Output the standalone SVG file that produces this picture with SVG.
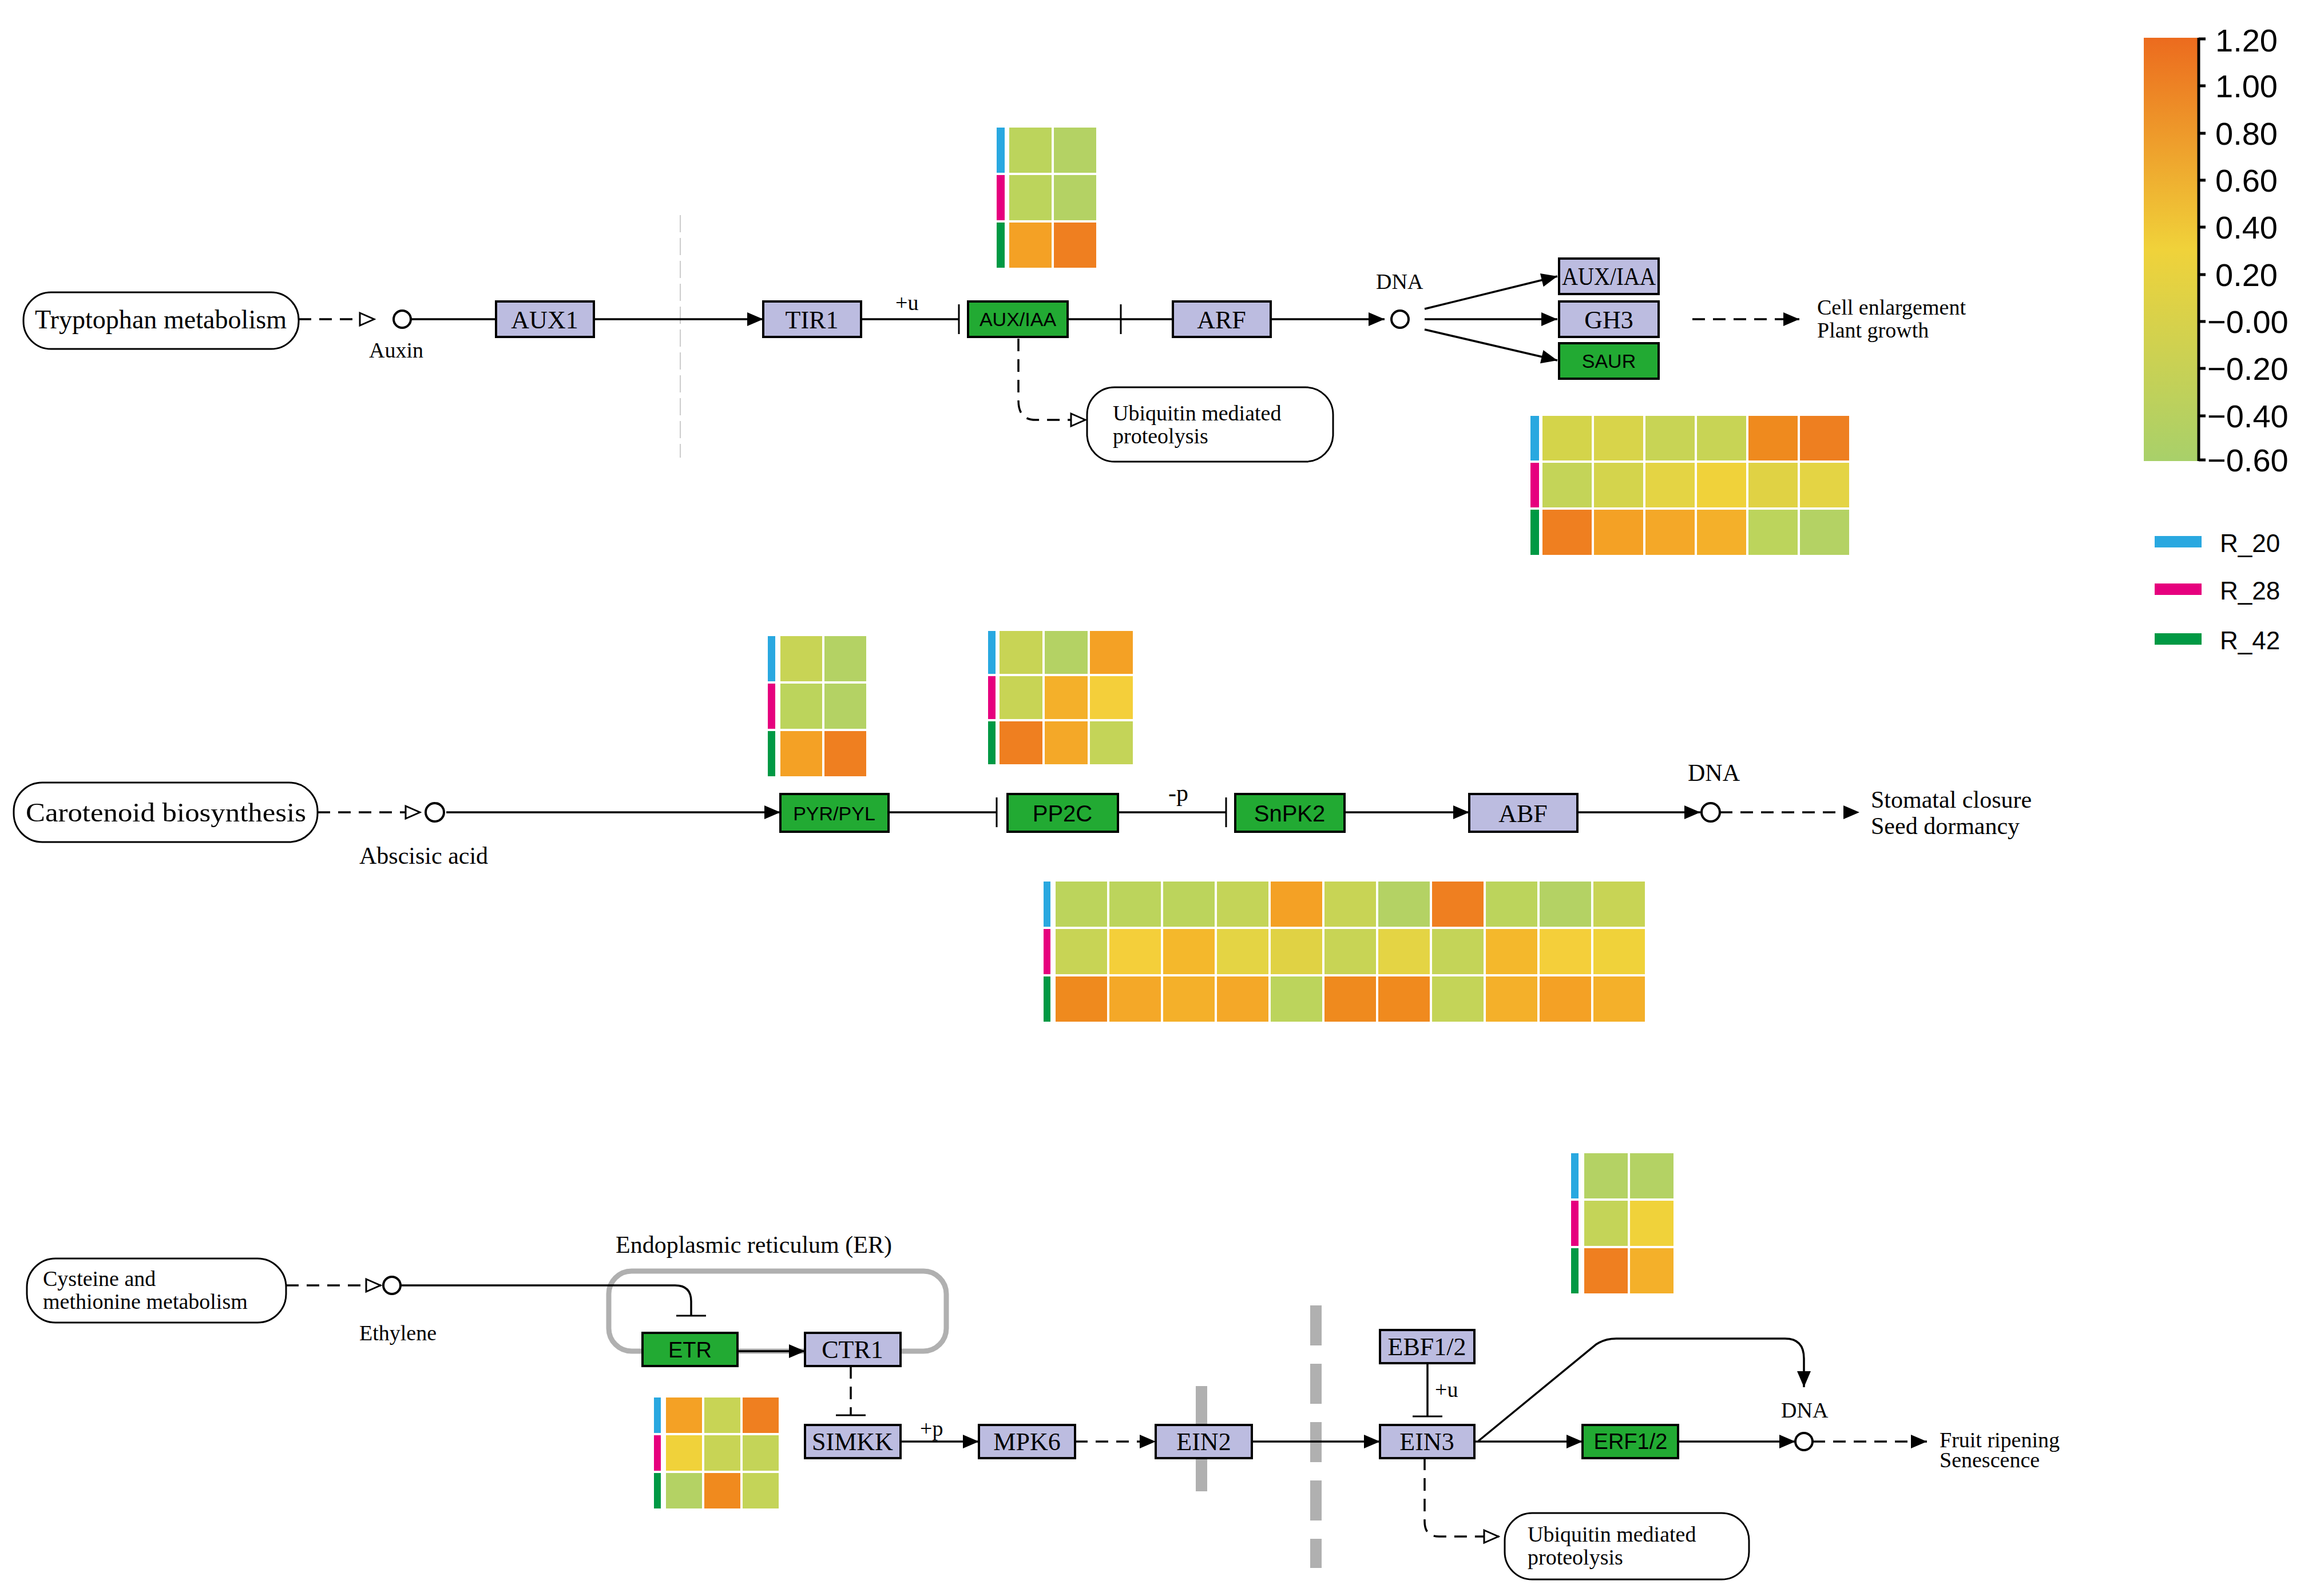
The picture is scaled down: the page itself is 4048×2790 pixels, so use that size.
<svg xmlns="http://www.w3.org/2000/svg" width="4048" height="2790" viewBox="0 0 4048 2790">
<defs>
<marker id="ah" markerWidth="32" markerHeight="32" refX="30" refY="16" orient="auto" markerUnits="userSpaceOnUse"><path d="M2,4L30,16L2,28z" fill="#000"/></marker>
<marker id="oa" markerWidth="32" markerHeight="32" refX="30" refY="16" orient="auto" markerUnits="userSpaceOnUse"><path d="M4,5L29,16L4,27z" fill="#fff" stroke="#000" stroke-width="3"/></marker>
<marker id="tb" markerWidth="8" markerHeight="60" refX="4" refY="30" orient="auto" markerUnits="userSpaceOnUse"><path d="M4,4V56" stroke="#000" stroke-width="3"/></marker>
<linearGradient id="cg" x1="0" y1="1" x2="0" y2="0"><stop offset="0" stop-color="#a8d06a"/><stop offset="0.5" stop-color="#f0d23a"/><stop offset="1" stop-color="#ec6b1e"/></linearGradient>
</defs>
<style>
text{font-family:"Liberation Serif",serif;fill:#000}
.lb{font-size:42px}
.sm{font-size:38px}
.gn rect{fill:#bcbce0;stroke:#000;stroke-width:4}
.gg rect{fill:#22aa33;stroke:#000;stroke-width:4}
.gn text,.gg text{text-anchor:middle}
.gg text{font-family:"Liberation Sans",sans-serif;font-size:34px}
.gn text{font-size:44px}
.map rect{fill:#fff;stroke:#000;stroke-width:3}
.ln{fill:none;stroke:#000;stroke-width:3.5}
.ds{fill:none;stroke:#000;stroke-width:3.5;stroke-dasharray:22,14}
.cp{fill:#fff;stroke:#000;stroke-width:4}
.hm rect{stroke:#fff;stroke-width:4}
.ax{font-family:"Liberation Sans",sans-serif;font-size:56px}
</style>
<rect width="4048" height="2790" fill="#fff"/>

<line x1="1189" y1="376" x2="1189" y2="800" stroke="#ccc" stroke-width="2" stroke-dasharray="30,10"/>
<rect x="1064" y="2222" width="590" height="140" rx="40" fill="none" stroke="#b0b0b0" stroke-width="9"/>
<text class="lb" x="1076" y="2190">Endoplasmic reticulum (ER)</text>
<line x1="2100" y1="2423" x2="2100" y2="2607" stroke="#b0b0b0" stroke-width="20"/>
<line x1="2300" y1="2282" x2="2300" y2="2741" stroke="#b0b0b0" stroke-width="20" stroke-dasharray="70,32"/>

<g id="connectors">
<path class="ds" d="M522,558H655" marker-end="url(#oa)"/>
<path class="ln" d="M718,558H867"/>
<path class="ln" d="M1038,558H1334" marker-end="url(#ah)"/>
<path class="ln" d="M1505,558H1676" marker-end="url(#tb)"/>
<path class="ln" d="M1866,558H1959" marker-end="url(#tb)"/>
<path class="ln" d="M1959,558H2050"/>
<path class="ln" d="M2221,558H2420" marker-end="url(#ah)"/>
<path class="ln" d="M2490,540L2722,483" marker-end="url(#ah)"/>
<path class="ln" d="M2490,558H2722" marker-end="url(#ah)"/>
<path class="ln" d="M2490,576L2722,630" marker-end="url(#ah)"/>
<path class="ds" d="M2958,558H3145" marker-end="url(#ah)"/>
<path class="ds" d="M1780,592V700Q1780,734 1810,734H1898" marker-end="url(#oa)"/>
<text class="sm" x="1565" y="542">+u</text>
<text class="sm" x="2405" y="505">DNA</text>

<path class="ds" d="M555,1420H735" marker-end="url(#oa)"/>
<path class="ln" d="M780,1420H1364" marker-end="url(#ah)"/>
<path class="ln" d="M1553,1420H1742" marker-end="url(#tb)"/>
<path class="ln" d="M1954,1420H2143" marker-end="url(#tb)"/>
<path class="ln" d="M2350,1420H2568" marker-end="url(#ah)"/>
<path class="ln" d="M2757,1420H2972" marker-end="url(#ah)"/>
<path class="ds" d="M3006,1420H3250" marker-end="url(#ah)"/>
<text class="lb" x="2042" y="1400">-p</text>
<text class="lb" x="2950" y="1365">DNA</text>

<path class="ds" d="M500,2247H666" marker-end="url(#oa)"/>
<path class="ln" d="M700,2247H1180Q1208,2247 1208,2275V2300" marker-end="url(#tb)"/>
<path class="ln" d="M1289,2362H1407" marker-end="url(#ah)"/>
<path class="ds" d="M1487,2388V2474" marker-end="url(#tb)"/>
<path class="ln" d="M1574,2520H1711" marker-end="url(#ah)"/>
<text class="sm" x="1608" y="2510">+p</text>
<path class="ds" d="M1879,2520H2020" marker-end="url(#ah)"/>
<path class="ln" d="M2188,2520H2412" marker-end="url(#ah)"/>
<path class="ln" d="M2495,2383V2476" marker-end="url(#tb)"/>
<text class="sm" x="2508" y="2442">+u</text>
<path class="ln" d="M2577,2520H2766" marker-end="url(#ah)"/>
<path class="ln" d="M2933,2520H3138" marker-end="url(#ah)"/>
<path class="ln" d="M2584,2519L2790,2350Q2805,2340 2825,2340H3120Q3153,2340 3153,2375V2425" marker-end="url(#ah)"/>
<path class="ds" d="M3168,2520H3368" marker-end="url(#ah)"/>
<text class="sm" x="3113" y="2478">DNA</text>
<path class="ds" d="M2490,2548V2660Q2490,2686 2515,2686H2620" marker-end="url(#oa)"/>
</g>

<circle class="cp" cx="703" cy="558" r="15"/>
<text class="sm" x="645" y="625">Auxin</text>
<circle class="cp" cx="2447" cy="558" r="15"/>
<circle class="cp" cx="760" cy="1420" r="16"/>
<text class="lb" x="628" y="1510">Abscisic acid</text>
<circle class="cp" cx="2990" cy="1420" r="16"/>
<circle class="cp" cx="685" cy="2247" r="15"/>
<text class="sm" x="628" y="2343">Ethylene</text>
<circle class="cp" cx="3153" cy="2520" r="15"/>

<text class="sm" x="3176" y="550">Cell enlargement</text>
<text class="sm" x="3176" y="590">Plant growth</text>
<text class="lb" x="3270" y="1412">Stomatal closure</text>
<text class="lb" x="3270" y="1458">Seed dormancy</text>
<text class="sm" x="3390" y="2530">Fruit ripening</text>
<text class="sm" x="3390" y="2565">Senescence</text>

<g id="map_trp" class="map"><rect x="41" y="511" width="481" height="99" rx="48"/><text x="281" y="574" text-anchor="middle" style="font-size:46px" textLength="440" lengthAdjust="spacingAndGlyphs">Tryptophan metabolism</text></g>
<g id="map_ub1" class="map"><rect x="1900" y="677" width="430" height="130" rx="48"/><text class="sm" x="1945" y="735">Ubiquitin mediated</text><text class="sm" x="1945" y="775">proteolysis</text></g>
<g id="map_car" class="map"><rect x="24" y="1368" width="531" height="104" rx="50"/><text x="290" y="1436" text-anchor="middle" style="font-size:46px" textLength="490" lengthAdjust="spacingAndGlyphs">Carotenoid biosynthesis</text></g>
<g id="map_cys" class="map"><rect x="47" y="2200" width="453" height="112" rx="50"/><text class="sm" x="75" y="2248">Cysteine and</text><text class="sm" x="75" y="2288">methionine metabolism</text></g>
<g id="map_ub2" class="map"><rect x="2630" y="2645" width="427" height="116" rx="48"/><text class="sm" x="2670" y="2695">Ubiquitin mediated</text><text class="sm" x="2670" y="2735">proteolysis</text></g>

<g id="AUX1" class="gn"><rect x="867" y="527" width="171" height="62"/><text x="952" y="574">AUX1</text></g>
<g id="TIR1" class="gn"><rect x="1334" y="527" width="171" height="62"/><text x="1419" y="574">TIR1</text></g>
<g id="AUXIAA1" class="gg"><rect x="1692" y="527" width="174" height="62"/><text x="1779" y="570">AUX/IAA</text></g>
<g id="ARF" class="gn"><rect x="2050" y="527" width="171" height="62"/><text x="2135" y="574">ARF</text></g>
<g id="AUXIAA2" class="gn"><rect x="2725" y="452" width="174" height="62"/><text x="2812" y="498" textLength="164" lengthAdjust="spacingAndGlyphs">AUX/IAA</text></g>
<g id="GH3" class="gn"><rect x="2725" y="527" width="174" height="62"/><text x="2812" y="574">GH3</text></g>
<g id="SAUR" class="gg"><rect x="2725" y="600" width="174" height="62"/><text x="2812" y="643">SAUR</text></g>

<g id="PYR" class="gg"><rect x="1364" y="1388" width="189" height="66"/><text x="1458" y="1434">PYR/PYL</text></g>
<g id="PP2C" class="gg"><rect x="1761" y="1388" width="193" height="66"/><text x="1857" y="1436" style="font-size:40px">PP2C</text></g>
<g id="SnPK2" class="gg"><rect x="2159" y="1388" width="191" height="66"/><text x="2254" y="1436" style="font-size:40px">SnPK2</text></g>
<g id="ABF" class="gn"><rect x="2568" y="1388" width="189" height="66"/><text x="2662" y="1437">ABF</text></g>

<g id="ETR" class="gg"><rect x="1123" y="2330" width="166" height="58"/><text x="1206" y="2373" style="font-size:38px">ETR</text></g>
<g id="CTR1" class="gn"><rect x="1407" y="2330" width="167" height="58"/><text x="1490" y="2374">CTR1</text></g>
<g id="SIMKK" class="gn"><rect x="1407" y="2491" width="167" height="58"/><text x="1490" y="2535">SIMKK</text></g>
<g id="MPK6" class="gn"><rect x="1711" y="2491" width="168" height="58"/><text x="1795" y="2535">MPK6</text></g>
<g id="EIN2" class="gn"><rect x="2020" y="2491" width="168" height="58"/><text x="2104" y="2535">EIN2</text></g>
<g id="EBF12" class="gn"><rect x="2412" y="2325" width="165" height="58"/><text x="2494" y="2369">EBF1/2</text></g>
<g id="EIN3" class="gn"><rect x="2412" y="2491" width="165" height="58"/><text x="2494" y="2535">EIN3</text></g>
<g id="ERF12" class="gg"><rect x="2766" y="2491" width="167" height="58"/><text x="2850" y="2533" style="font-size:38px">ERF1/2</text></g>

<g id="hm1" class="hm">
<rect x="1740" y="221" width="18" height="83" fill="#29a8e0" stroke="none"/><rect x="1740" y="304" width="18" height="83" fill="#e6007e" stroke="none"/><rect x="1740" y="387" width="18" height="83" fill="#009944" stroke="none"/>
<rect x="1762" y="221" width="78" height="83" fill="#bcd45c"/><rect x="1840" y="221" width="78" height="83" fill="#b4d264"/>
<rect x="1762" y="304" width="78" height="83" fill="#bcd45c"/><rect x="1840" y="304" width="78" height="83" fill="#b4d264"/>
<rect x="1762" y="387" width="78" height="83" fill="#f4a125"/><rect x="1840" y="387" width="78" height="83" fill="#ef7f20"/>
</g>
<g id="hm2" class="hm">
<rect x="2673" y="725" width="19" height="82" fill="#29a8e0" stroke="none"/><rect x="2673" y="807" width="19" height="82" fill="#e6007e" stroke="none"/><rect x="2673" y="889" width="19" height="83" fill="#009944" stroke="none"/>
<rect x="2694" y="725" width="90" height="82" fill="#d4d44a"/><rect x="2784" y="725" width="90" height="82" fill="#d8d44a"/><rect x="2874" y="725" width="90" height="82" fill="#c8d455"/><rect x="2964" y="725" width="90" height="82" fill="#c8d455"/><rect x="3054" y="725" width="90" height="82" fill="#ef8a1e"/><rect x="3144" y="725" width="90" height="82" fill="#ee7f20"/>
<rect x="2694" y="807" width="90" height="82" fill="#c4d458"/><rect x="2784" y="807" width="90" height="82" fill="#d4d44c"/><rect x="2874" y="807" width="90" height="82" fill="#e4d444"/><rect x="2964" y="807" width="90" height="82" fill="#f0d23a"/><rect x="3054" y="807" width="90" height="82" fill="#e0d244"/><rect x="3144" y="807" width="90" height="82" fill="#e4d444"/>
<rect x="2694" y="889" width="90" height="83" fill="#ef7f20"/><rect x="2784" y="889" width="90" height="83" fill="#f4a125"/><rect x="2874" y="889" width="90" height="83" fill="#f4a828"/><rect x="2964" y="889" width="90" height="83" fill="#f4b02a"/><rect x="3054" y="889" width="90" height="83" fill="#bcd45c"/><rect x="3144" y="889" width="90" height="83" fill="#b4d264"/>
</g>
<g id="hm3" class="hm">
<rect x="1340" y="1110" width="17" height="83" fill="#29a8e0" stroke="none"/><rect x="1340" y="1193" width="17" height="83" fill="#e6007e" stroke="none"/><rect x="1340" y="1276" width="17" height="83" fill="#009944" stroke="none"/>
<rect x="1362" y="1110" width="77" height="83" fill="#c8d455"/><rect x="1439" y="1110" width="77" height="83" fill="#b4d264"/>
<rect x="1362" y="1193" width="77" height="83" fill="#bcd45c"/><rect x="1439" y="1193" width="77" height="83" fill="#b4d264"/>
<rect x="1362" y="1276" width="77" height="83" fill="#f4a125"/><rect x="1439" y="1276" width="77" height="83" fill="#ef7f20"/>
</g>
<g id="hm4" class="hm">
<rect x="1725" y="1101" width="17" height="79" fill="#29a8e0" stroke="none"/><rect x="1725" y="1180" width="17" height="79" fill="#e6007e" stroke="none"/><rect x="1725" y="1259" width="17" height="79" fill="#009944" stroke="none"/>
<rect x="1745" y="1101" width="79" height="79" fill="#c8d455"/><rect x="1824" y="1101" width="79" height="79" fill="#b4d264"/><rect x="1903" y="1101" width="79" height="79" fill="#f4a125"/>
<rect x="1745" y="1180" width="79" height="79" fill="#c8d455"/><rect x="1824" y="1180" width="79" height="79" fill="#f4b02a"/><rect x="1903" y="1180" width="79" height="79" fill="#f4cf3a"/>
<rect x="1745" y="1259" width="79" height="79" fill="#ef7f20"/><rect x="1824" y="1259" width="79" height="79" fill="#f4a828"/><rect x="1903" y="1259" width="79" height="79" fill="#c4d458"/>
</g>
<g id="hm5" class="hm">
<rect x="1822" y="1539" width="16" height="83" fill="#29a8e0" stroke="none"/><rect x="1822" y="1622" width="16" height="83" fill="#e6007e" stroke="none"/><rect x="1822" y="1705" width="16" height="83" fill="#009944" stroke="none"/>
<rect x="1843" y="1539" width="94" height="83" fill="#bcd45c"/><rect x="1937" y="1539" width="94" height="83" fill="#bcd45c"/><rect x="2031" y="1539" width="94" height="83" fill="#bcd45c"/><rect x="2125" y="1539" width="94" height="83" fill="#c4d458"/><rect x="2219" y="1539" width="94" height="83" fill="#f4a125"/><rect x="2313" y="1539" width="94" height="83" fill="#c8d455"/><rect x="2407" y="1539" width="94" height="83" fill="#b4d264"/><rect x="2501" y="1539" width="94" height="83" fill="#ef7f20"/><rect x="2595" y="1539" width="94" height="83" fill="#bcd45c"/><rect x="2689" y="1539" width="94" height="83" fill="#b4d264"/><rect x="2783" y="1539" width="94" height="83" fill="#c8d455"/>
<rect x="1843" y="1622" width="94" height="83" fill="#c8d455"/><rect x="1937" y="1622" width="94" height="83" fill="#f4cf3a"/><rect x="2031" y="1622" width="94" height="83" fill="#f4b82c"/><rect x="2125" y="1622" width="94" height="83" fill="#e4d444"/><rect x="2219" y="1622" width="94" height="83" fill="#e0d244"/><rect x="2313" y="1622" width="94" height="83" fill="#c8d455"/><rect x="2407" y="1622" width="94" height="83" fill="#e4d444"/><rect x="2501" y="1622" width="94" height="83" fill="#c4d458"/><rect x="2595" y="1622" width="94" height="83" fill="#f4b82c"/><rect x="2689" y="1622" width="94" height="83" fill="#f4cf3a"/><rect x="2783" y="1622" width="94" height="83" fill="#f0d23a"/>
<rect x="1843" y="1705" width="94" height="83" fill="#ef8a1e"/><rect x="1937" y="1705" width="94" height="83" fill="#f4a828"/><rect x="2031" y="1705" width="94" height="83" fill="#f4b02a"/><rect x="2125" y="1705" width="94" height="83" fill="#f4a828"/><rect x="2219" y="1705" width="94" height="83" fill="#bcd45c"/><rect x="2313" y="1705" width="94" height="83" fill="#ef8a1e"/><rect x="2407" y="1705" width="94" height="83" fill="#f08a1e"/><rect x="2501" y="1705" width="94" height="83" fill="#c4d458"/><rect x="2595" y="1705" width="94" height="83" fill="#f4b02a"/><rect x="2689" y="1705" width="94" height="83" fill="#f4a125"/><rect x="2783" y="1705" width="94" height="83" fill="#f4b02a"/>
</g>
<g id="hm6" class="hm">
<rect x="1141" y="2441" width="16" height="66" fill="#29a8e0" stroke="none"/><rect x="1141" y="2507" width="16" height="66" fill="#e6007e" stroke="none"/><rect x="1141" y="2573" width="16" height="66" fill="#009944" stroke="none"/>
<rect x="1162" y="2441" width="67" height="66" fill="#f4a125"/><rect x="1229" y="2441" width="67" height="66" fill="#c8d455"/><rect x="1296" y="2441" width="67" height="66" fill="#ef7f20"/>
<rect x="1162" y="2507" width="67" height="66" fill="#f0d23a"/><rect x="1229" y="2507" width="67" height="66" fill="#c8d455"/><rect x="1296" y="2507" width="67" height="66" fill="#c4d458"/>
<rect x="1162" y="2573" width="67" height="66" fill="#b4d264"/><rect x="1229" y="2573" width="67" height="66" fill="#f08a1e"/><rect x="1296" y="2573" width="67" height="66" fill="#c4d458"/>
</g>
<g id="hm7" class="hm">
<rect x="2744" y="2014" width="17" height="83" fill="#29a8e0" stroke="none"/><rect x="2744" y="2097" width="17" height="83" fill="#e6007e" stroke="none"/><rect x="2744" y="2180" width="17" height="83" fill="#009944" stroke="none"/>
<rect x="2767" y="2014" width="80" height="83" fill="#b4d264"/><rect x="2847" y="2014" width="80" height="83" fill="#b4d264"/>
<rect x="2767" y="2097" width="80" height="83" fill="#c4d458"/><rect x="2847" y="2097" width="80" height="83" fill="#f0d23a"/>
<rect x="2767" y="2180" width="80" height="83" fill="#ef7f20"/><rect x="2847" y="2180" width="80" height="83" fill="#f4b02a"/>
</g>

<g id="legend">
<rect x="3747" y="66" width="94" height="740" fill="url(#cg)"/>
<path d="M3843,66V806" stroke="#000" stroke-width="5"/>
<path d="M3843,68h12M3843,150h12M3843,233h12M3843,315h12M3843,397h12M3843,480h12M3843,562h12M3843,644h12M3843,727h12M3843,804h12" stroke="#000" stroke-width="5"/>
<text class="ax" x="3872" y="90">1.20</text>
<text class="ax" x="3872" y="170">1.00</text>
<text class="ax" x="3872" y="253">0.80</text>
<text class="ax" x="3872" y="335">0.60</text>
<text class="ax" x="3872" y="417">0.40</text>
<text class="ax" x="3872" y="500">0.20</text>
<text class="ax" x="3858" y="582">−0.00</text>
<text class="ax" x="3858" y="664">−0.20</text>
<text class="ax" x="3858" y="747">−0.40</text>
<text class="ax" x="3858" y="824">−0.60</text>
<rect x="3766" y="937" width="82" height="20" fill="#29a8e0"/>
<rect x="3766" y="1020" width="82" height="20" fill="#e6007e"/>
<rect x="3766" y="1107" width="82" height="20" fill="#009944"/>
<text class="ax" x="3880" y="965" style="font-size:44px">R_20</text>
<text class="ax" x="3880" y="1048" style="font-size:44px">R_28</text>
<text class="ax" x="3880" y="1135" style="font-size:44px">R_42</text>
</g>
</svg>
